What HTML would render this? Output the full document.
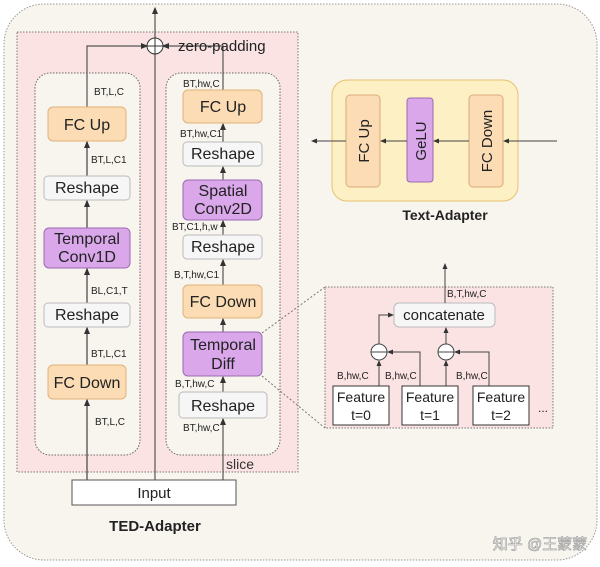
<!DOCTYPE html><html><head><style>body{margin:0;background:#fff}svg{display:block;font-family:"Liberation Sans","Noto Sans CJK SC",sans-serif}</style></head><body>
<svg width="600" height="567" viewBox="0 0 600 567">
<defs><marker id="a" markerWidth="6" markerHeight="6" refX="5" refY="3" orient="auto"><path d="M0,0.5 L6,3 L0,5.5z" fill="#333"/></marker></defs>
<rect x="4" y="4" width="593" height="556" rx="40" fill="#f8f5ee" stroke="#999" stroke-dasharray="1.5,1.5"/>
<rect x="17" y="32" width="281" height="440" fill="#fbe3e3" stroke="#777" stroke-dasharray="1.5,1.5"/>
<rect x="35" y="73" width="105" height="382" rx="15" fill="#f8f5ee" stroke="#666" stroke-dasharray="1.5,1.5"/>
<rect x="166" y="73" width="114" height="382" rx="15" fill="#f8f5ee" stroke="#666" stroke-dasharray="1.5,1.5"/>
<g stroke="#555" stroke-width="1.2" fill="none">
<line x1="155" y1="480" x2="155" y2="54"/><line x1="155" y1="39" x2="155" y2="8" marker-end="url(#a)"/>
<polyline points="87,480 87,46 147,46" marker-end="url(#a)"/>
<polyline points="223,90 223,46 163,46" marker-end="url(#a)"/>
<line x1="87" y1="480" x2="87" y2="400" marker-end="url(#a)"/>
<line x1="87" y1="365" x2="87" y2="328" marker-end="url(#a)"/>
<line x1="87" y1="303" x2="87" y2="269" marker-end="url(#a)"/>
<line x1="87" y1="228" x2="87" y2="201" marker-end="url(#a)"/>
<line x1="87" y1="176" x2="87" y2="142" marker-end="url(#a)"/>
<line x1="223" y1="480" x2="223" y2="419" marker-end="url(#a)"/>
<line x1="223" y1="392" x2="223" y2="377" marker-end="url(#a)"/>
<line x1="223" y1="332" x2="223" y2="319" marker-end="url(#a)"/>
<line x1="223" y1="285" x2="223" y2="260" marker-end="url(#a)"/>
<line x1="223" y1="235" x2="223" y2="221" marker-end="url(#a)"/>
<line x1="223" y1="180" x2="223" y2="167" marker-end="url(#a)"/>
<line x1="223" y1="142" x2="223" y2="124" marker-end="url(#a)"/>
</g>
<circle cx="155" cy="46" r="8" fill="#fff" stroke="#333"/><line x1="147" y1="46" x2="163" y2="46" stroke="#333"/><line x1="155" y1="38" x2="155" y2="54" stroke="#333"/>
<g stroke-width="1">
<rect x="48" y="107" width="78" height="34" rx="5" fill="#fbdcb4" stroke="#e0b27a"/>
<rect x="44" y="176" width="86" height="24" rx="4" fill="#f6f6f6" stroke="#bbb"/>
<rect x="44" y="228" width="86" height="40" rx="5" fill="#d9a7ea" stroke="#9a6bb0"/>
<rect x="44" y="303" width="86" height="24" rx="4" fill="#f6f6f6" stroke="#bbb"/>
<rect x="48" y="365" width="78" height="34" rx="5" fill="#fbdcb4" stroke="#e0b27a"/>
<rect x="183" y="90" width="79" height="33" rx="5" fill="#fbdcb4" stroke="#e0b27a"/>
<rect x="183" y="142" width="79" height="24" rx="4" fill="#f6f6f6" stroke="#bbb"/>
<rect x="183" y="180" width="79" height="40" rx="5" fill="#d9a7ea" stroke="#9a6bb0"/>
<rect x="183" y="235" width="79" height="24" rx="4" fill="#f6f6f6" stroke="#bbb"/>
<rect x="183" y="285" width="79" height="33" rx="5" fill="#fbdcb4" stroke="#e0b27a"/>
<rect x="183" y="332" width="79" height="44" rx="5" fill="#d9a7ea" stroke="#9a6bb0"/>
<rect x="179" y="392" width="88" height="26" rx="4" fill="#f6f6f6" stroke="#bbb"/>
<rect x="72" y="480" width="164" height="25" fill="#fff" stroke="#555"/>
</g>
<g font-size="16" fill="#222" text-anchor="middle">
<text x="87" y="130">FC Up</text><text x="87" y="193">Reshape</text><text x="87" y="244">Temporal</text><text x="87" y="262">Conv1D</text><text x="87" y="320">Reshape</text><text x="87" y="388">FC Down</text>
<text x="223" y="112">FC Up</text><text x="223" y="159">Reshape</text><text x="223" y="196">Spatial</text><text x="223" y="214">Conv2D</text><text x="223" y="252">Reshape</text><text x="223" y="307">FC Down</text><text x="223" y="350">Temporal</text><text x="223" y="369">Diff</text><text x="223" y="411">Reshape</text>
<text x="154" y="498" font-size="15">Input</text>
<text x="155" y="531" font-weight="bold" font-size="15">TED-Adapter</text>
<text x="445" y="220" font-weight="bold" font-size="14">Text-Adapter</text>
</g>
<text x="178" y="51" font-size="15" fill="#222">zero-padding</text>
<text x="226" y="469" font-size="14" fill="#333">slice</text>
<g font-size="10" fill="#222">
<text x="94" y="95">BT,L,C</text><text x="91" y="163">BT,L,C1</text><text x="91" y="294">BL,C1,T</text><text x="91" y="357">BT,L,C1</text><text x="95" y="425">BT,L,C</text>
<text x="183" y="87">BT,hw,C</text><text x="180" y="137">BT,hw,C1</text><text x="172" y="230">BT,C1,h,w</text><text x="174" y="278">B,T,hw,C1</text><text x="175" y="387">B,T,hw,C</text><text x="183" y="431">BT,hw,C</text>
</g>
<rect x="332" y="80" width="186" height="121" rx="15" fill="#fdf0c4" stroke="#e6c26e"/>
<rect x="346" y="95" width="34" height="92" rx="4" fill="#fbdcb4" stroke="#d9ad7a"/>
<rect x="407" y="98" width="26" height="84" rx="3" fill="#d9a7ea" stroke="#9a6bb0"/>
<rect x="469" y="95" width="34" height="92" rx="4" fill="#fbdcb4" stroke="#d9ad7a"/>
<g stroke="#444" fill="none"><line x1="557" y1="141" x2="504" y2="141" marker-end="url(#a)"/><line x1="469" y1="141" x2="434" y2="141" marker-end="url(#a)"/><line x1="407" y1="141" x2="381" y2="141" marker-end="url(#a)"/><line x1="346" y1="141" x2="312" y2="141" marker-end="url(#a)"/></g>
<g font-size="15" fill="#222" text-anchor="middle">
<text transform="translate(369,141) rotate(-90)">FC Up</text><text transform="translate(426,141) rotate(-90)">GeLU</text><text transform="translate(492,141) rotate(-90)">FC Down</text>
</g>
<line x1="262" y1="333" x2="325" y2="287" stroke="#777" stroke-dasharray="2,2"/><line x1="262" y1="376" x2="325" y2="428" stroke="#777" stroke-dasharray="2,2"/>
<rect x="325" y="287" width="228" height="141" fill="#fbe3e3" stroke="#777" stroke-dasharray="1.5,1.5"/>
<rect x="394" y="303" width="101" height="24" rx="5" fill="#f6f6f6" stroke="#bbb"/>
<text x="444" y="320" font-size="15" text-anchor="middle" fill="#222">concatenate</text>
<g stroke="#444" fill="none">
<line x1="445" y1="303" x2="445" y2="264" marker-end="url(#a)"/>
<polyline points="379,344 379,315 393,315" marker-end="url(#a)"/>
<line x1="446" y1="344" x2="446" y2="328" marker-end="url(#a)"/>
<line x1="379" y1="386" x2="379" y2="361" marker-end="url(#a)"/>
<polyline points="420,386 420,352 388,352" marker-end="url(#a)"/>
<line x1="446" y1="386" x2="446" y2="361" marker-end="url(#a)"/>
<polyline points="489,386 489,352 455,352" marker-end="url(#a)"/>
</g>
<g fill="#fff" stroke="#444"><circle cx="379" cy="352" r="8"/><circle cx="446" cy="352" r="8"/></g>
<line x1="371" y1="352" x2="387" y2="352" stroke="#444"/><line x1="438" y1="352" x2="454" y2="352" stroke="#444"/>
<g fill="#fff" stroke="#333"><rect x="333" y="386" width="56" height="39"/><rect x="402" y="386" width="56" height="39"/><rect x="473" y="386" width="56" height="39"/></g>
<g font-size="14" fill="#222" text-anchor="middle"><text x="361" y="402">Feature</text><text x="361" y="420">t=0</text><text x="430" y="402">Feature</text><text x="430" y="420">t=1</text><text x="501" y="402">Feature</text><text x="501" y="420">t=2</text></g>
<text x="538" y="412" font-size="12" fill="#222">...</text>
<g font-size="10" fill="#222"><text x="447" y="297">B,T,hw,C</text><text x="337" y="379">B,hw,C</text><text x="385" y="379">B,hw,C</text><text x="456" y="379">B,hw,C</text></g>
<text x="540" y="549" font-size="15" fill="#fff" stroke="#999" stroke-width="0.6" text-anchor="middle">知乎 @王蒙蒙</text>
</svg>
</body></html>
